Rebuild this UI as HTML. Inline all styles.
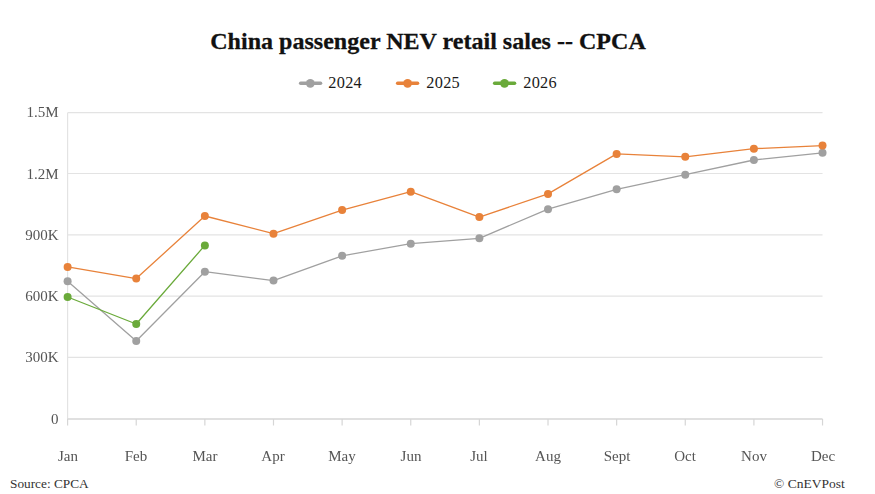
<!DOCTYPE html>
<html><head><meta charset="utf-8">
<style>
html,body{margin:0;padding:0;background:#fff;}
body{width:875px;height:494px;position:relative;overflow:hidden;font-family:"Liberation Serif",serif;}
svg{position:absolute;left:0;top:0;}
.title{position:absolute;left:0;top:27px;width:856px;text-align:center;font-weight:bold;font-size:22px;transform:scale(1.093,1.05);transform-origin:428px 21.7px;-webkit-text-stroke:0.25px #111;line-height:30px;color:#111;white-space:nowrap;}
.leg{position:absolute;top:74.2px;font-size:16.3px;letter-spacing:0.3px;color:#1a1a1a;white-space:nowrap;line-height:18px;}
.yl,.xl{will-change:transform;}
.yl{position:absolute;left:0;width:58.5px;text-align:right;font-size:15px;line-height:18px;color:#555;}
.xl{position:absolute;top:447px;width:60px;text-align:center;font-size:15px;line-height:18px;color:#555;}
.foot{position:absolute;top:475.5px;font-size:13.5px;line-height:16px;color:#333;white-space:nowrap;}
</style></head><body>
<svg width="875" height="494" viewBox="0 0 875 494">
<line x1="67.6" y1="112.7" x2="822.53" y2="112.7" stroke="#e3e3e3" stroke-width="1.2"/>
<line x1="67.6" y1="173.5" x2="822.53" y2="173.5" stroke="#e3e3e3" stroke-width="1.2"/>
<line x1="67.6" y1="234.8" x2="822.53" y2="234.8" stroke="#e3e3e3" stroke-width="1.2"/>
<line x1="67.6" y1="296.1" x2="822.53" y2="296.1" stroke="#e3e3e3" stroke-width="1.2"/>
<line x1="67.6" y1="357.3" x2="822.53" y2="357.3" stroke="#e3e3e3" stroke-width="1.2"/>
<line x1="67.6" y1="112.7" x2="67.6" y2="419.0" stroke="#e3e3e3" stroke-width="1.2"/>
<line x1="67.6" y1="419.0" x2="822.53" y2="419.0" stroke="#d6d6d6" stroke-width="1.5"/>
<line x1="67.60" y1="419.0" x2="67.60" y2="425.5" stroke="#d6d6d6" stroke-width="1.2"/>
<line x1="136.23" y1="419.0" x2="136.23" y2="425.5" stroke="#d6d6d6" stroke-width="1.2"/>
<line x1="204.86" y1="419.0" x2="204.86" y2="425.5" stroke="#d6d6d6" stroke-width="1.2"/>
<line x1="273.49" y1="419.0" x2="273.49" y2="425.5" stroke="#d6d6d6" stroke-width="1.2"/>
<line x1="342.12" y1="419.0" x2="342.12" y2="425.5" stroke="#d6d6d6" stroke-width="1.2"/>
<line x1="410.75" y1="419.0" x2="410.75" y2="425.5" stroke="#d6d6d6" stroke-width="1.2"/>
<line x1="479.38" y1="419.0" x2="479.38" y2="425.5" stroke="#d6d6d6" stroke-width="1.2"/>
<line x1="548.01" y1="419.0" x2="548.01" y2="425.5" stroke="#d6d6d6" stroke-width="1.2"/>
<line x1="616.64" y1="419.0" x2="616.64" y2="425.5" stroke="#d6d6d6" stroke-width="1.2"/>
<line x1="685.27" y1="419.0" x2="685.27" y2="425.5" stroke="#d6d6d6" stroke-width="1.2"/>
<line x1="753.90" y1="419.0" x2="753.90" y2="425.5" stroke="#d6d6d6" stroke-width="1.2"/>
<line x1="822.53" y1="419.0" x2="822.53" y2="425.5" stroke="#d6d6d6" stroke-width="1.2"/>
<polyline points="67.60,281.2 136.23,341.0 204.86,271.7 273.49,280.6 342.12,255.8 410.75,243.7 479.38,238.3 548.01,209.2 616.64,189.3 685.27,174.7 753.90,160.0 822.53,152.8" fill="none" stroke="#a0a0a0" stroke-width="1.3" stroke-linejoin="round"/><circle cx="67.60" cy="281.2" r="4" fill="#a0a0a0"/><circle cx="136.23" cy="341.0" r="4" fill="#a0a0a0"/><circle cx="204.86" cy="271.7" r="4" fill="#a0a0a0"/><circle cx="273.49" cy="280.6" r="4" fill="#a0a0a0"/><circle cx="342.12" cy="255.8" r="4" fill="#a0a0a0"/><circle cx="410.75" cy="243.7" r="4" fill="#a0a0a0"/><circle cx="479.38" cy="238.3" r="4" fill="#a0a0a0"/><circle cx="548.01" cy="209.2" r="4" fill="#a0a0a0"/><circle cx="616.64" cy="189.3" r="4" fill="#a0a0a0"/><circle cx="685.27" cy="174.7" r="4" fill="#a0a0a0"/><circle cx="753.90" cy="160.0" r="4" fill="#a0a0a0"/><circle cx="822.53" cy="152.8" r="4" fill="#a0a0a0"/>
<polyline points="67.60,266.9 136.23,278.6 204.86,216.0 273.49,233.7 342.12,210.1 410.75,191.7 479.38,217.1 548.01,193.9 616.64,153.9 685.27,156.8 753.90,148.7 822.53,145.6" fill="none" stroke="#e8823a" stroke-width="1.3" stroke-linejoin="round"/><circle cx="67.60" cy="266.9" r="4" fill="#e8823a"/><circle cx="136.23" cy="278.6" r="4" fill="#e8823a"/><circle cx="204.86" cy="216.0" r="4" fill="#e8823a"/><circle cx="273.49" cy="233.7" r="4" fill="#e8823a"/><circle cx="342.12" cy="210.1" r="4" fill="#e8823a"/><circle cx="410.75" cy="191.7" r="4" fill="#e8823a"/><circle cx="479.38" cy="217.1" r="4" fill="#e8823a"/><circle cx="548.01" cy="193.9" r="4" fill="#e8823a"/><circle cx="616.64" cy="153.9" r="4" fill="#e8823a"/><circle cx="685.27" cy="156.8" r="4" fill="#e8823a"/><circle cx="753.90" cy="148.7" r="4" fill="#e8823a"/><circle cx="822.53" cy="145.6" r="4" fill="#e8823a"/>
<polyline points="67.60,297.0 136.23,324.0 204.86,245.4" fill="none" stroke="#6aaa3a" stroke-width="1.3" stroke-linejoin="round"/><circle cx="67.60" cy="297.0" r="4" fill="#6aaa3a"/><circle cx="136.23" cy="324.0" r="4" fill="#6aaa3a"/><circle cx="204.86" cy="245.4" r="4" fill="#6aaa3a"/>
<g stroke-width="3.4" stroke-linecap="round">
<line x1="300.6" y1="83.3" x2="320.6" y2="83.3" stroke="#a0a0a0"/><circle cx="310.3" cy="83.3" r="4.4" fill="#a0a0a0" stroke="none"/>
<line x1="397.6" y1="83.3" x2="417.6" y2="83.3" stroke="#e8823a"/><circle cx="407.6" cy="83.3" r="4.4" fill="#e8823a" stroke="none"/>
<line x1="494.6" y1="83.3" x2="514.6" y2="83.3" stroke="#6aaa3a"/><circle cx="504.5" cy="83.3" r="4.4" fill="#6aaa3a" stroke="none"/>
</g>
</svg>
<div class="title">China passenger NEV retail sales -- CPCA</div>
<div class="leg" style="left:328.3px">2024</div>
<div class="leg" style="left:426.3px">2025</div>
<div class="leg" style="left:523.2px">2026</div>
<div class="yl" style="top:102.8px">1.5M</div>
<div class="yl" style="top:164.9px">1.2M</div>
<div class="yl" style="top:225.8px">900K</div>
<div class="yl" style="top:286.8px">600K</div>
<div class="yl" style="top:348.3px">300K</div>
<div class="yl" style="top:410.2px">0</div>

<div class="xl" style="left:37.60px">Jan</div>
<div class="xl" style="left:106.23px">Feb</div>
<div class="xl" style="left:174.86px">Mar</div>
<div class="xl" style="left:243.49px">Apr</div>
<div class="xl" style="left:312.12px">May</div>
<div class="xl" style="left:380.75px">Jun</div>
<div class="xl" style="left:449.38px">Jul</div>
<div class="xl" style="left:518.01px">Aug</div>
<div class="xl" style="left:586.64px">Sept</div>
<div class="xl" style="left:655.27px">Oct</div>
<div class="xl" style="left:723.90px">Nov</div>
<div class="xl" style="left:792.53px">Dec</div>

<div class="foot" style="left:10px;font-size:13.3px">Source: CPCA</div>
<div class="foot" style="left:774px">© CnEVPost</div>
</body></html>
